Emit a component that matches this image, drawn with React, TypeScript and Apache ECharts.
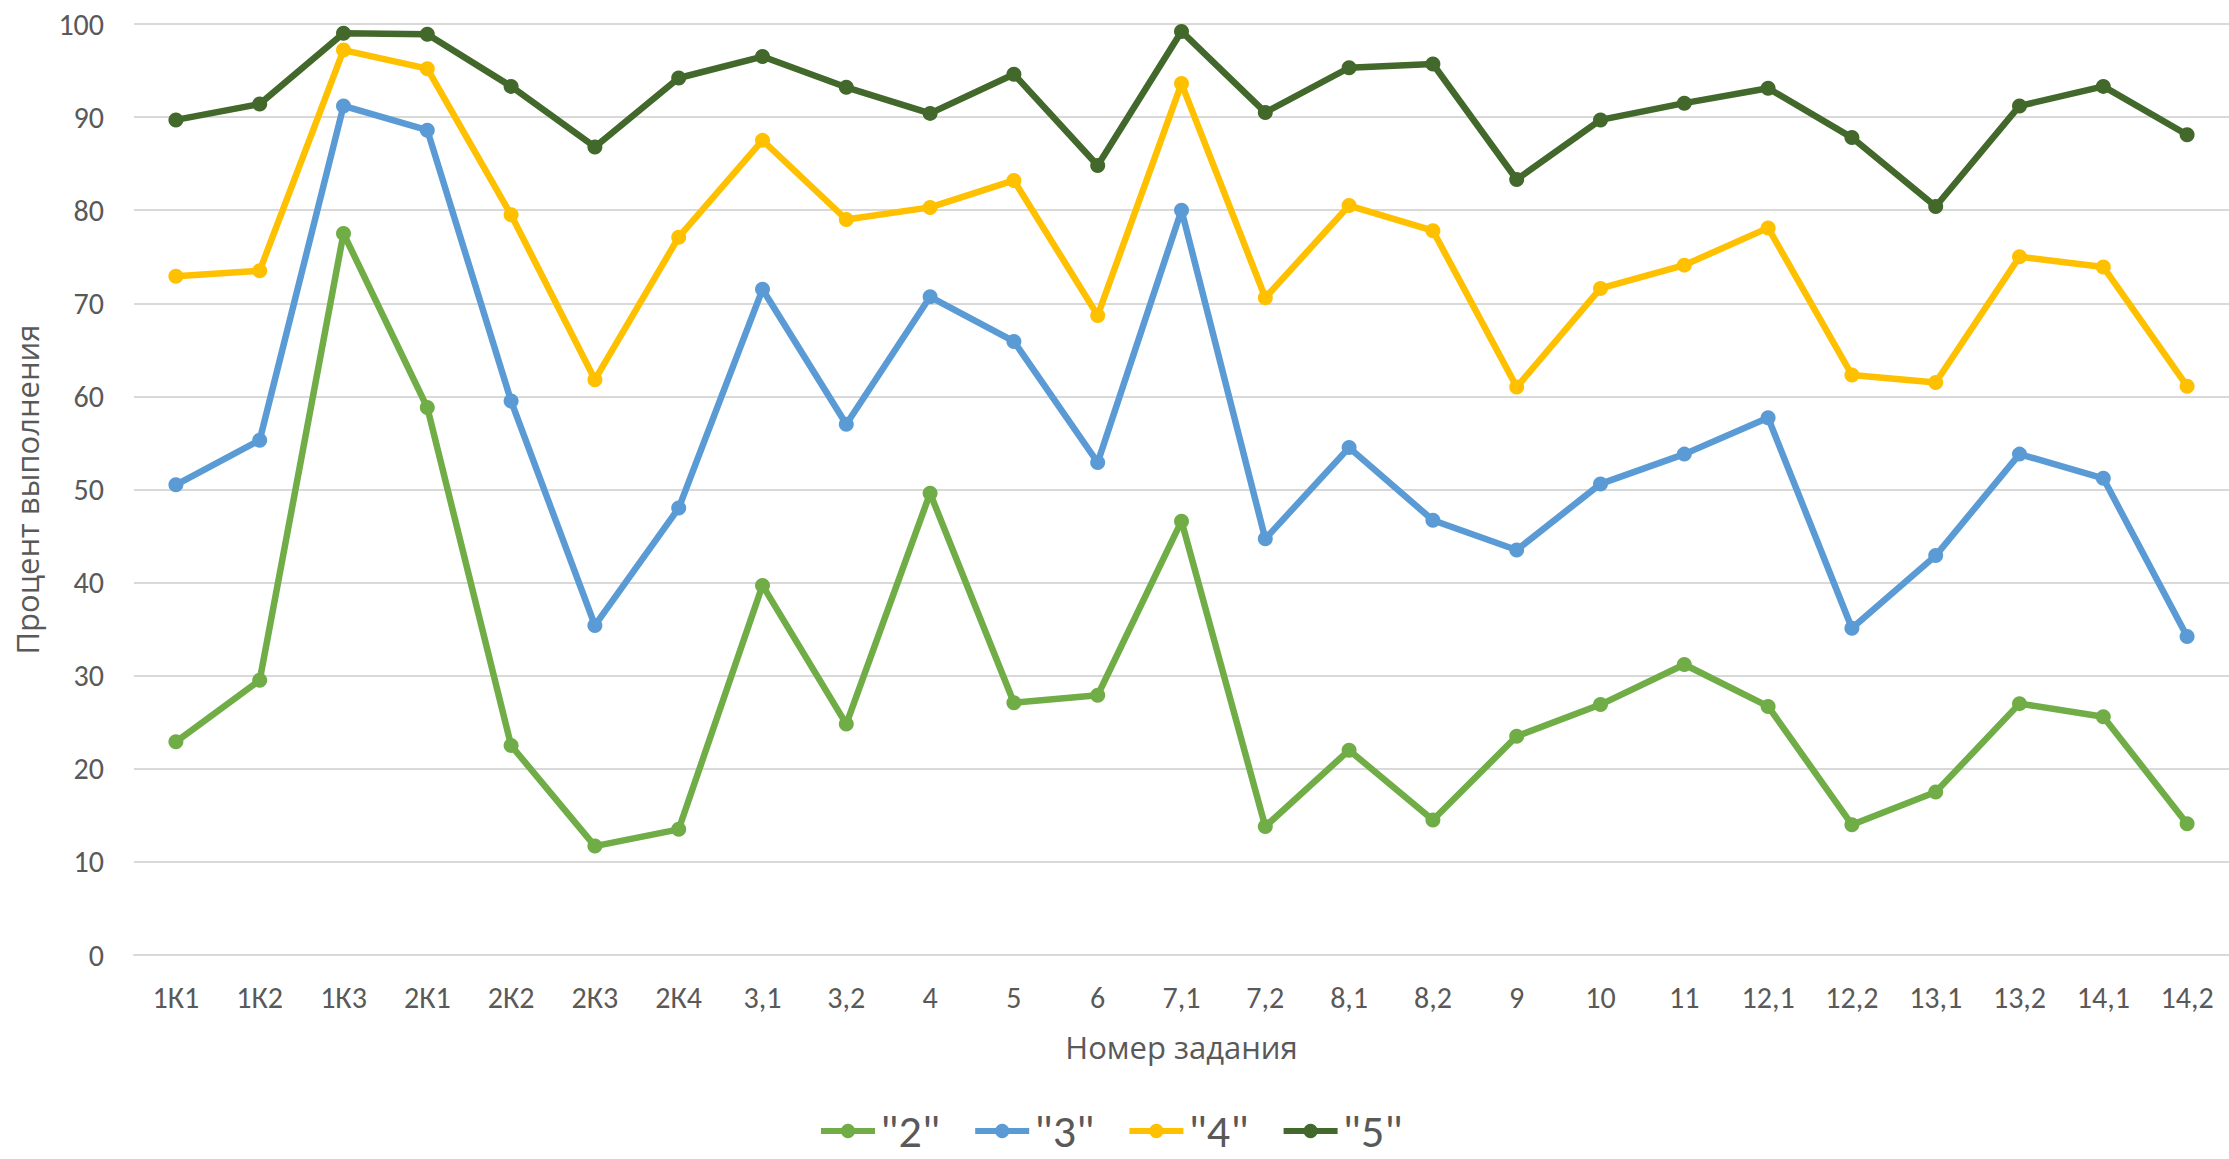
import React, { useEffect, useRef } from "react";
import * as echarts from "echarts";

const categories = ["1К1", "1К2", "1К3", "2К1", "2К2", "2К3", "2К4", "3,1", "3,2", "4", "5", "6", "7,1", "7,2", "8,1", "8,2", "9", "10", "11", "12,1", "12,2", "13,1", "13,2", "14,1", "14,2"];

const seriesNames = ['"2"', '"3"', '"4"', '"5"'];

const grade2 = [22.9, 29.5, 77.5, 58.8, 22.5, 11.7, 13.5, 39.7, 24.8, 49.6, 27.1, 27.9, 46.6, 13.8, 22.0, 14.5, 23.5, 26.9, 31.2, 26.7, 14.0, 17.5, 27.0, 25.6, 14.1];
const grade3 = [50.5, 55.3, 91.2, 88.6, 59.5, 35.4, 48.0, 71.5, 57.0, 70.7, 65.9, 52.9, 80.0, 44.7, 54.5, 46.7, 43.5, 50.6, 53.8, 57.7, 35.1, 42.9, 53.8, 51.2, 34.2];
const grade4 = [72.9, 73.5, 97.2, 95.2, 79.5, 61.8, 77.1, 87.5, 79.0, 80.3, 83.2, 68.7, 93.6, 70.6, 80.5, 77.8, 61.0, 71.6, 74.1, 78.1, 62.3, 61.5, 75.0, 73.9, 61.1];
const grade5 = [89.7, 91.4, 99.0, 98.9, 93.3, 86.8, 94.2, 96.5, 93.2, 90.4, 94.6, 84.8, 99.2, 90.5, 95.3, 95.7, 83.3, 89.7, 91.5, 93.1, 87.8, 80.4, 91.2, 93.3, 88.1];

const colors = ["#70AD47", "#5B9BD5", "#FFC000", "#43682B"];

const yTitle = "Процент выполнения";
const xTitle = "Номер задания";

const tickFont = '"Liberation Sans Narrow", "Arial Narrow", Carlito, Calibri, "Open Sans", sans-serif';
const titleFont = '"Open Sans", "Noto Sans", sans-serif';

export default function App() {
  const ref = useRef<HTMLDivElement>(null);

  useEffect(() => {
    if (!ref.current) return;
    const chart = echarts.init(ref.current, null, { renderer: "svg" });
    const data = [grade2, grade3, grade4, grade5];
    chart.setOption({
      animation: false,
      backgroundColor: "#ffffff",
      grid: { left: 134, right: 0, top: 24, bottom: 204, containLabel: false },
      legend: {
        left: 818,
        top: 1108,
        padding: 0,
        itemWidth: 54,
        itemHeight: 18,
        itemGap: 32,
        lineStyle: { width: 6 },
        itemStyle: { borderWidth: 0 },
        textStyle: { fontFamily: tickFont, fontSize: 46, lineHeight: 46, color: "#595959", padding: [0, 0, 0, 0] },
        data: seriesNames,
      },
      xAxis: {
        type: "category",
        data: categories,
        boundaryGap: true,
        name: xTitle,
        nameLocation: "middle",
        nameGap: 76,
        nameTextStyle: { fontFamily: titleFont, fontSize: 31, color: "#595959" },
        axisLine: { show: true, lineStyle: { color: "#D9D9D9", width: 2 } },
        axisTick: { show: false },
        axisLabel: { fontFamily: tickFont, fontSize: 30, color: "#595959", margin: 27 },
      },
      yAxis: {
        type: "value",
        min: 0,
        max: 100,
        interval: 10,
        name: yTitle,
        nameLocation: "middle",
        nameGap: 92,
        nameTextStyle: { fontFamily: titleFont, fontSize: 31, color: "#595959" },
        axisLine: { show: false },
        axisTick: { show: false },
        axisLabel: { fontFamily: tickFont, fontSize: 30, color: "#595959", margin: 30 },
        splitLine: { show: true, lineStyle: { color: "#D9D9D9", width: 2 } },
      },
      series: seriesNames.map((name, i) => ({
        name,
        type: "line",
        data: data[i],
        symbol: "circle",
        symbolSize: 15,
        showSymbol: true,
        color: colors[i],
        itemStyle: { color: colors[i] },
        lineStyle: { color: colors[i], width: 6.5 },
        z: 2 + i,
      })),
    });
    return () => chart.dispose();
  }, []);

  return (
    <div
      ref={ref}
      style={{ position: "fixed", left: 0, top: 0, width: 2229, height: 1159, background: "#fff" }}
    />
  );
}
